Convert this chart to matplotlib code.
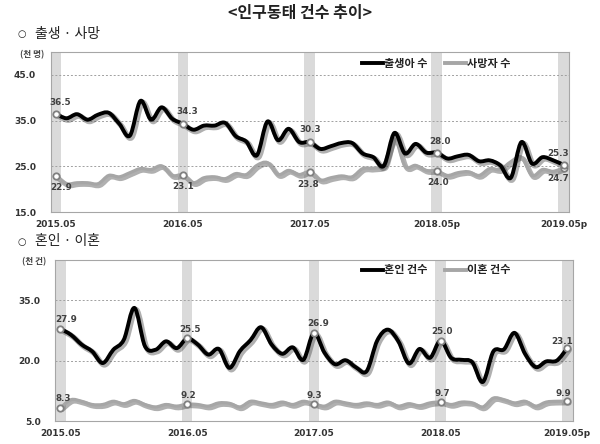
import matplotlib
matplotlib.use('Agg')
import matplotlib.pyplot as plt
from matplotlib.path import Path
from matplotlib.patches import PathPatch
from matplotlib.lines import Line2D
import matplotlib.patheffects as pe
import numpy as np

# ---------------- data ----------------
months = list(range(49))          # 2015.05 ... 2019.05 (monthly)
may_idx = [0, 12, 24, 36, 48]

top_xlabels = ['2015.05', '2016.05', '2017.05', '2018.05p', '2019.05p']
bot_xlabels = ['2015.05', '2016.05', '2017.05', '2018.05', '2019.05p']

births = [36.5, 35.5, 36.4, 35.2, 36.3, 36.7, 34.3, 31.7, 39.3, 35.2, 37.9, 35.4,
          34.3, 33.0, 33.9, 33.9, 34.5, 31.6, 30.4, 27.4, 34.8, 30.7, 33.2, 30.3,
          30.3, 28.8, 29.4, 30.1, 30.1, 27.8, 27.0, 25.1, 32.3, 27.8, 29.9, 28.0,
          28.0, 26.7, 27.2, 27.5, 26.1, 26.3, 25.2, 22.5, 30.3, 25.6, 27.0, 26.3, 25.3]
deaths = [22.9, 21.2, 21.4, 21.4, 21.2, 23.0, 22.7, 23.6, 24.5, 24.3, 25.1, 23.0,
          23.1, 21.4, 22.5, 22.7, 22.3, 23.4, 23.2, 25.2, 25.8, 23.2, 24.1, 23.2,
          23.8, 22.0, 22.5, 22.9, 22.7, 24.5, 24.6, 25.4, 31.0, 25.0, 25.2, 24.1,
          24.0, 23.0, 23.6, 23.8, 23.0, 24.5, 24.3, 26.0, 27.0, 23.0, 24.3, 23.9, 24.7]
marriages = [27.9, 26.4, 24.0, 22.3, 19.4, 22.7, 25.2, 33.1, 23.6, 22.7, 24.8, 23.1,
             25.5, 24.0, 21.5, 22.9, 18.2, 22.4, 25.1, 28.3, 24.0, 21.7, 23.3, 20.2,
             26.9, 22.0, 19.1, 20.1, 18.3, 17.4, 25.0, 27.7, 24.8, 19.3, 22.9, 20.7,
             25.0, 20.7, 20.2, 19.6, 14.7, 22.3, 22.8, 26.9, 21.7, 18.4, 19.8, 20.0, 23.1]
divorces = [8.3, 10.3, 9.9, 9.1, 9.1, 9.9, 9.3, 10.1, 9.1, 8.5, 9.1, 8.7,
            9.2, 9.1, 8.7, 9.5, 9.4, 8.5, 9.9, 9.5, 9.1, 9.7, 9.1, 9.9,
            9.3, 8.7, 9.9, 9.5, 9.1, 9.5, 9.1, 9.7, 8.7, 9.3, 8.8, 9.5,
            9.7, 9.1, 9.7, 9.5, 8.5, 10.7, 10.3, 9.5, 9.9, 8.7, 9.7, 9.9, 9.9]

top_yticks = [15, 25, 35, 45]
bot_yticks = [5, 20, 35]

title = '<인구동태 건수 추이>'
bullet = '○'
top_header = '출생 · 사망'
bot_header = '혼인 · 이혼'
top_unit = '(천 명)'
bot_unit = '(천 건)'
top_names = ['출생아 수', '사망자 수']
bot_names = ['혼인 건수', '이혼 건수']

# ---------------- style ----------------
KR = ['Noto Sans CJK KR', 'DejaVu Sans']
NUM = ['DejaVu Sans', 'Noto Sans CJK KR']
plt.rcParams['font.family'] = NUM
BLACK = '#000000'
GRAY = '#a6a6a6'
TXT = '#333333'


def smooth_path(xs, ys):
    pts = np.column_stack([xs, ys]).astype(float)
    n = len(pts)
    verts = [pts[0]]
    codes = [Path.MOVETO]
    for i in range(n - 1):
        p0 = pts[i - 1] if i > 0 else pts[i]
        p1 = pts[i]
        p2 = pts[i + 1]
        p3 = pts[i + 2] if i + 2 < n else pts[i + 1]
        c1 = p1 + (p2 - p0) / 6.0
        c2 = p2 - (p3 - p1) / 6.0
        verts += [c1, c2, p2]
        codes += [Path.CURVE4] * 3
    return Path(verts, codes)


def draw_series(ax, ys, color, lw, z):
    patch = PathPatch(smooth_path(months, ys), fill=False, edgecolor=color,
                      linewidth=lw, capstyle='round', joinstyle='round', zorder=z)
    patch.set_path_effects([
        pe.SimpleLineShadow(offset=(1.3, -1.3), shadow_color='#505050', alpha=0.45,
                            linewidth=lw + 1.2),
        pe.Normal()])
    ax.add_patch(patch)
    mx = [months[i] for i in may_idx]
    my = [ys[i] for i in may_idx]
    ax.plot(mx, my, linestyle='none', marker='o', ms=4.6, mfc='white',
            mec='#808080', mew=1.3, zorder=z + 1)


def label_points(ax, ys, offsets):
    for k, i in enumerate(may_idx):
        dx, dy = offsets[k]
        ax.annotate(f'{ys[i]:.1f}', (months[i], ys[i]), xytext=(dx, dy),
                    textcoords='offset points', ha='center', va='center',
                    fontsize=6.3, fontweight='bold', color='#404040',
                    family=NUM, zorder=10)


def setup_axes(ax, ylim, yticks, xlabels):
    ax.set_xlim(-0.5, 48.5)
    ax.set_ylim(*ylim)
    for i in may_idx:
        ax.axvspan(i - 0.5, i + 0.5, color='#dadada', zorder=0, lw=0)
    for v in yticks[1:]:
        ax.axhline(v, color='#a0a0a0', lw=0.7, ls=(0, (2, 2)), zorder=0.5)
    ax.set_yticks(yticks)
    ax.set_yticklabels([f'{v:.1f}' for v in yticks])
    ax.set_xticks([months[i] for i in may_idx])
    ax.set_xticklabels(xlabels)
    ax.tick_params(axis='both', length=0, labelsize=6.5, labelcolor=TXT)
    ax.tick_params(axis='y', pad=10.5)
    ax.tick_params(axis='x', pad=5.5)
    for lab in ax.get_xticklabels() + ax.get_yticklabels():
        lab.set_fontweight('bold')
    for s in ax.spines.values():
        s.set_color('#a6a6a6')
        s.set_linewidth(0.8)


fig = plt.figure(figsize=(6.0, 4.44), dpi=100)

ax1 = fig.add_axes([0.0842, 0.5225, 0.8642, 0.3604])
ax2 = fig.add_axes([0.0920, 0.0518, 0.8623, 0.3626])

setup_axes(ax1, (15, 50), top_yticks, top_xlabels)
setup_axes(ax2, (5, 45), bot_yticks, bot_xlabels)

draw_series(ax1, deaths, GRAY, 2.3, 3)
draw_series(ax1, births, BLACK, 2.8, 5)
draw_series(ax2, divorces, GRAY, 2.3, 3)
draw_series(ax2, marriages, BLACK, 2.8, 5)

label_points(ax1, births, [(3, 8), (3, 9), (0, 9), (2, 8), (-4, 8)])
label_points(ax1, deaths, [(4, -8.5), (0, -8.5), (-1, -9), (1, -8.5), (-4, -8)])
label_points(ax2, marriages, [(4, 6.5), (2, 6.5), (3, 6.5), (1, 6.5), (-4, 5)])
label_points(ax2, divorces, [(2, 6.5), (1, 6), (0, 6), (1, 6), (-3, 5.5)])

# legends
def add_legend(names, y):
    handles = [Line2D([0], [0], color=BLACK, lw=2.8),
               Line2D([0], [0], color=GRAY, lw=2.8)]
    leg = fig.legend(handles, names, loc='center', bbox_to_anchor=(0.727, y),
                     ncol=2, frameon=False, handlelength=1.9, handletextpad=0.1,
                     columnspacing=1.6, prop={'family': KR, 'size': 8, 'weight': 'bold'})
    for t in leg.get_texts():
        t.set_color('#222222')

add_legend(top_names, 1 - 63 / 444)
add_legend(bot_names, 1 - 270 / 444)

# texts
fig.text(0.5, 1 - 13 / 444, title, ha='center', va='center', fontsize=11.5,
         family=KR, fontweight='bold', color='#222222')
for yy, hdr in [(34, top_header), (241, bot_header)]:
    fig.text(21.5 / 600, 1 - (yy + 0.5) / 444, bullet, ha='center', va='center',
             fontsize=7, family=['DejaVu Sans'], color='#222222')
    fig.text(35 / 600, 1 - yy / 444, hdr, ha='left', va='center', fontsize=10,
             family=KR, color='#222222')
fig.text(20 / 600, 1 - 55 / 444, top_unit, ha='left', va='center', fontsize=6.2,
         family=KR, fontweight='bold', color='#444444')
fig.text(22 / 600, 1 - 262 / 444, bot_unit, ha='left', va='center', fontsize=6.2,
         family=KR, fontweight='bold', color='#444444')

fig.savefig('out.png', dpi=100, facecolor='white')
